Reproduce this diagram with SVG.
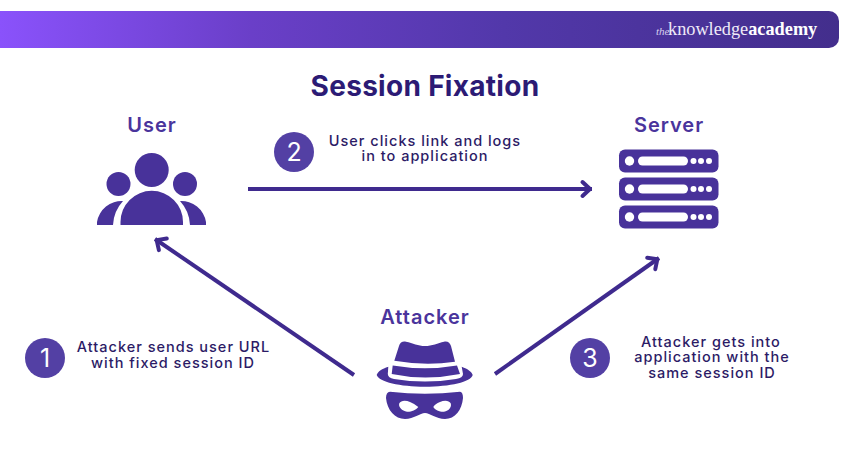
<svg xmlns="http://www.w3.org/2000/svg" width="850" height="450" viewBox="0 0 850 450">
<style>
.lbl{font-family:Inter,"Liberation Sans",sans-serif;font-weight:600;font-size:20px;fill:#4a349c;text-anchor:middle;letter-spacing:1px}
.txt{font-family:Inter,"Liberation Sans",sans-serif;font-weight:500;font-size:14.5px;fill:#2c1b66;text-anchor:middle;letter-spacing:1px}
.num{font-family:Inter,"Liberation Sans",sans-serif;font-weight:400;font-size:25px;fill:#fff;text-anchor:middle}
.ic{fill:#48329a}
.cir{fill:#5340a4}
.w{fill:#fff}
.conn{stroke:#3f2a8e;stroke-width:4;fill:none;marker-end:url(#a)}
</style>
<defs>
<linearGradient id="g" x1="0" x2="1" y1="0" y2="0"><stop offset="0" stop-color="#8a52fb"/><stop offset=".3" stop-color="#6a3fc8"/><stop offset=".6" stop-color="#5238aa"/><stop offset="1" stop-color="#432e8c"/></linearGradient>
<marker id="a" markerUnits="userSpaceOnUse" markerWidth="18" markerHeight="20" refX="15" refY="10" orient="auto" viewBox="0 0 18 20"><path d="M5.500 3L13 10L5.500 17" fill="none" stroke="#3f2a8e" stroke-width="4" stroke-linecap="round" stroke-linejoin="round"/></marker>
</defs>
<g id="banner">
<path d="M0 11H829a10 10 0 0 1 10 10V38a10 10 0 0 1-10 10H0z" fill="url(#g)"/>
<text x="656" y="35" font-family="Liberation Serif,serif" font-size="11" font-style="italic" fill="#d9d0ee">the</text>
<text x="668" y="35" font-family="Liberation Serif,serif" font-size="18.300" fill="#efeaf8">knowledge<tspan font-weight="700" fill="#fff">academy</tspan></text>
</g>
<text id="title" x="425" y="96" font-family="Inter,Liberation Sans,sans-serif" font-weight="700" font-size="28" letter-spacing=".3" fill="#2c1b75" text-anchor="middle">Session Fixation</text>
<g id="connectors">
<path class="conn" d="M248 189H592"/>
<path class="conn" d="M354 375L155 239"/>
<path class="conn" d="M495 374L659 258"/>
</g>
<g id="user">
<text class="lbl" x="152" y="132">User</text>
<circle class="ic" cx="151.700" cy="170" r="17"/>
<circle class="ic" cx="118.500" cy="184" r="12"/>
<circle class="ic" cx="185" cy="184" r="12"/>
<path class="ic" d="M120.500 225V222a31 31 0 0 1 62.500 0V225z"/>
<path class="ic" d="M97 225V222a25 25 0 0 1 26-21a38 38 0 0 0-10 24z"/>
<path class="ic" d="M206 225V222a25 25 0 0 0-26-21a38 38 0 0 1 10 24z"/>
</g>
<g id="server">
<text class="lbl" x="669" y="132">Server</text>
<g id="rows">
<rect class="ic" x="619" y="149.500" width="99.500" height="23" rx="6"/>
<rect class="ic" x="619" y="177.500" width="99.500" height="23" rx="6"/>
<rect class="ic" x="619" y="205.500" width="99.500" height="23" rx="6"/>
<g class="w">
<circle cx="629.500" cy="161" r="4.700"/><rect x="638" y="156.500" width="50" height="9" rx="4.500"/><circle cx="693.500" cy="161" r="3"/><circle cx="701" cy="161" r="3"/><circle cx="709" cy="161" r="3"/>
<circle cx="629.500" cy="189" r="4.700"/><rect x="638" y="184.500" width="50" height="9" rx="4.500"/><circle cx="693.500" cy="189" r="3"/><circle cx="701" cy="189" r="3"/><circle cx="709" cy="189" r="3"/>
<circle cx="629.500" cy="217" r="4.700"/><rect x="638" y="212.500" width="50" height="9" rx="4.500"/><circle cx="693.500" cy="217" r="3"/><circle cx="701" cy="217" r="3"/><circle cx="709" cy="217" r="3"/>
</g>
</g>
</g>
<g id="attacker">
<text class="lbl" x="425" y="324">Attacker</text>
<path class="ic" d="M394.300 360.700L399 346C400 342 403 341 406 341.700C413 343 418 346 425 346C432 346 438 343 444 341.700C448 341 450 343 451 346L455 361.700Q425 366 394.300 360.700Z"/>
<path class="ic" d="M392.700 365.500Q425 371 457 365.500L460 374Q425 381 391.700 374Z"/>
<path class="ic" d="M388.300 366.700L387.800 374Q388 378 394 379Q425 384 456 379Q463 378 463 374L461.700 366.700C468 369 472 372 472.700 375C471 382 450 386.700 425 386.700C400 386.700 379 382 376.700 375C378 371 382 369 388.300 366.700Z"/>
<path class="ic" d="M390 391.700Q425 396 460 391.700Q463 392 463 398C462 410 455 419 445 419C436 419 430 413 425 413C420 413 414 419 405 419C395 419 387 410 386 398Q386 392 390 391.700Z"/>
<path class="w" d="M399.300 403.300C401 400 406 400 410 402Q415 404 418.300 407C416 410 411 412 407 411.700C402 411 398 407 399.300 403.300Z"/>
<path class="w" d="M450.700 403.300C449 400 444 400 440 402Q435 404 433.300 407C435 410 440 412 444 411.700C449 411 452 407 450.700 403.300Z"/>
</g>
<g id="step1">
<circle class="cir" cx="45" cy="358" r="20"/>
<text class="num" x="45" y="367">1</text>
<text class="txt"><tspan x="173.500" y="352">Attacker sends user URL</tspan><tspan x="173" y="367.500">with fixed session ID</tspan></text>
</g>
<g id="step2">
<circle class="cir" cx="294" cy="152" r="20"/>
<text class="num" x="294" y="161">2</text>
<text class="txt"><tspan x="425" y="146">User clicks link and logs</tspan><tspan x="425" y="161">in to application</tspan></text>
</g>
<g id="step3">
<circle class="cir" cx="590" cy="358" r="20"/>
<text class="num" x="590" y="367">3</text>
<text class="txt"><tspan x="711" y="347">Attacker gets into</tspan><tspan x="712" y="362">application with the</tspan><tspan x="712" y="378">same session ID</tspan></text>
</g>
</svg>
